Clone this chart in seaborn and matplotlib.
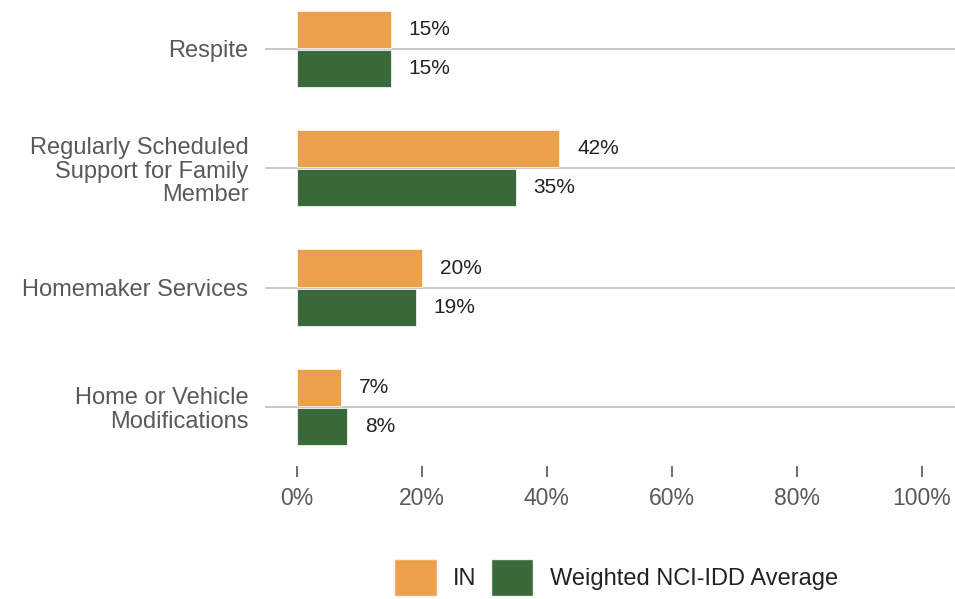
import pandas as pd
import matplotlib.pyplot as plt
import seaborn as sns
from matplotlib.patches import Patch

categories = ['Respite', 'Regularly Scheduled\nSupport for Family\nMember',
              'Homemaker Services', 'Home or Vehicle\nModifications']
series = ['IN', 'Weighted NCI-IDD Average']
in_values = [15, 42, 20, 7]
nci_values = [15, 35, 19, 8]
colors = ['#EDA04C', '#3A6A3A']

df = pd.DataFrame({
    'category': categories * 2,
    'group': [series[0]] * 4 + [series[1]] * 4,
    'value': in_values + nci_values,
})

sns.set_style('white')
plt.rcParams['font.family'] = ['Liberation Sans', 'DejaVu Sans']

fig = plt.figure(figsize=(9.55, 5.99), dpi=100)
ax = fig.add_axes([265 / 955, 1 - 466 / 599, 1 - 265 / 955, 466 / 599])

sns.barplot(data=df, y='category', x='value', hue='group', orient='h',
            palette=colors, saturation=1, width=0.655, gap=0.05, legend=False,
            ax=ax, edgecolor='#f4f4f4', linewidth=0.6)

for cont in ax.containers:
    ax.bar_label(cont, labels=[f'{v:.0f}%' for v in cont.datavalues],
                 padding=13, fontsize=15, color='#222222')

# grid lines through the category centres
for i in range(len(categories)):
    ax.axhline(i, color='#c4c4c4', lw=1.3, zorder=0)

ax.set_xlim(-5.1, 105.3)
ax.set_ylim(3.495, -0.41)
ax.set_xticks([0, 20, 40, 60, 80, 100])
ax.set_xticklabels([f'{t}%' for t in [0, 20, 40, 60, 80, 100]])
ax.tick_params(axis='x', length=8, width=1.2, color='#555555', direction='out',
               labelsize=16.5, labelcolor='#595959', pad=7, bottom=True)
ax.tick_params(axis='y', length=0, labelsize=17, labelcolor='#595959', pad=12)
for lbl in ax.get_yticklabels():
    lbl.set_linespacing(1.1)
ax.set_xlabel('')
ax.set_ylabel('')
for s in ax.spines.values():
    s.set_visible(False)

handles = [Patch(facecolor=c, edgecolor='#f4f4f4') for c in colors]
fig.legend(handles, series, loc='lower center', ncol=2, frameon=False,
           bbox_to_anchor=(0.645, -0.03), fontsize=17, handlelength=1.8,
           handleheight=2.0, handletextpad=0.7, columnspacing=0.6,
           labelcolor='#222222')

fig.savefig('out.png', dpi=100)
